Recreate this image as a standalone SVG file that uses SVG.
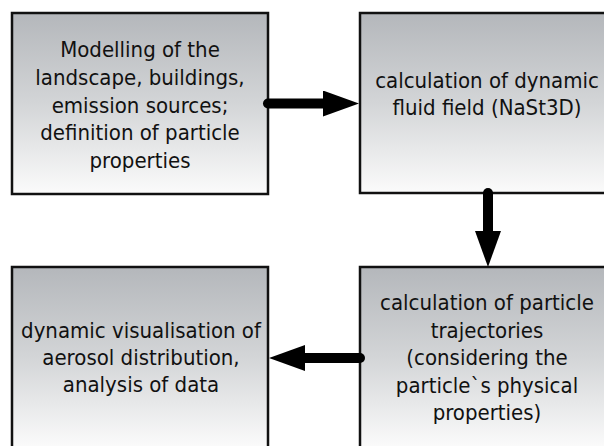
<svg xmlns="http://www.w3.org/2000/svg" width="604" height="446" viewBox="0 0 604 446">
<defs>
<linearGradient id="g" x1="0" y1="0" x2="0" y2="1">
<stop offset="0" stop-color="#b4b7bb"/>
<stop offset="0.5" stop-color="#d3d5d7"/>
<stop offset="1" stop-color="#fbfbfb"/>
</linearGradient>
<marker id="ah" markerUnits="userSpaceOnUse" markerWidth="36" markerHeight="26" refX="0" refY="13" orient="auto">
<path d="M0,0 L36,13 L0,26 z" fill="#000"/>
</marker>
<style>
.box{fill:url(#g);stroke:#111;stroke-width:2.5}
.t{font-family:"DejaVu Sans Condensed","DejaVu Sans",sans-serif;font-size:22px;fill:#111;text-anchor:middle}
.c{fill:none;stroke:#000;stroke-width:10;stroke-linecap:round;marker-end:url(#ah)}
</style>
</defs>
<rect width="604" height="446" fill="#fff"/>
<g id="n1">
<rect class="box" x="12" y="13" width="256" height="181"/>
<text class="t"><tspan x="140" y="57">Modelling of the</tspan><tspan x="140" y="85">landscape, buildings,</tspan><tspan x="140" y="113">emission sources;</tspan><tspan x="140" y="140">definition of particle</tspan><tspan x="140" y="168">properties</tspan></text>
</g>
<g id="n2">
<rect class="box" x="360" y="13" width="256" height="180"/>
<text class="t"><tspan x="487" y="88">calculation of dynamic</tspan><tspan x="487" y="115">fluid field (NaSt3D)</tspan></text>
</g>
<g id="n3">
<rect class="box" x="12" y="267" width="256" height="181"/>
<text class="t"><tspan x="141" y="338">dynamic visualisation of</tspan><tspan x="141" y="365">aerosol distribution,</tspan><tspan x="141" y="392">analysis of data</tspan></text>
</g>
<g id="n4">
<rect class="box" x="360" y="267" width="256" height="181"/>
<text class="t"><tspan x="487" y="310">calculation of particle</tspan><tspan x="487" y="338">trajectories</tspan><tspan x="487" y="365">(considering the</tspan><tspan x="487" y="393">particle`s physical</tspan><tspan x="487" y="420">properties)</tspan></text>
</g>
<g id="connectors">
<path class="c" d="M268,103.5 H323"/>
<path class="c" d="M488,193 V231"/>
<path class="c" d="M360,358 H305"/>
</g>
</svg>
